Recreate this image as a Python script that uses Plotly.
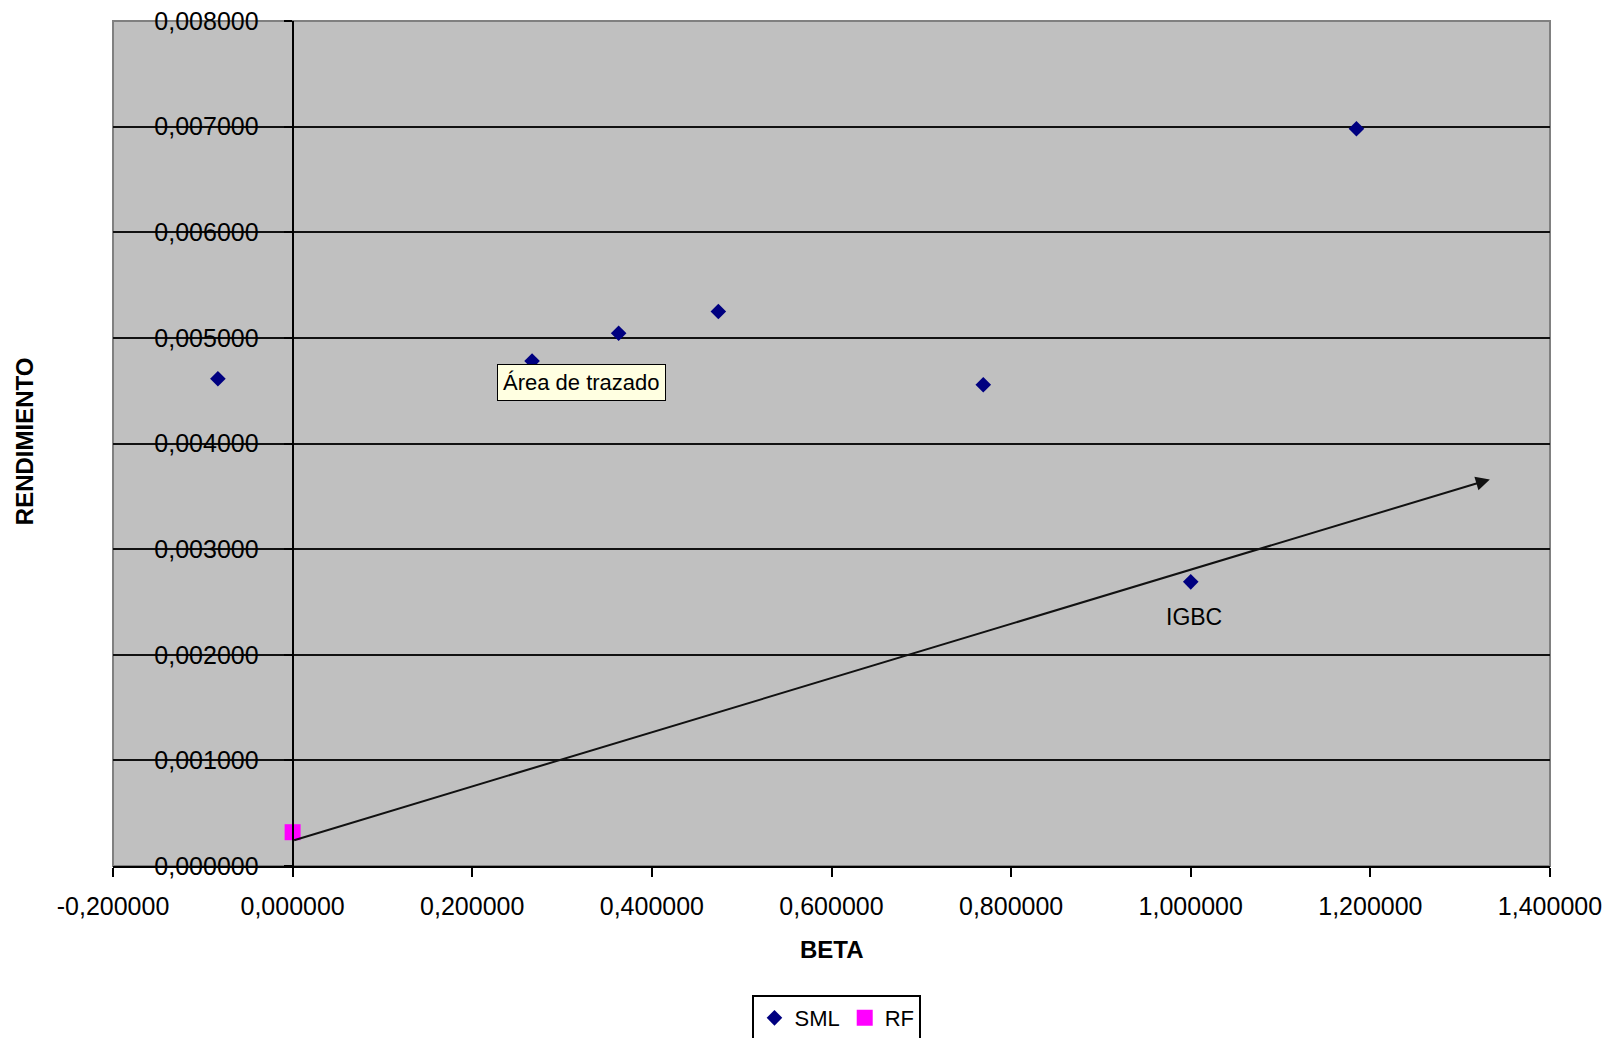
import plotly.graph_objects as go

# ---- data ----
sml_beta = [-0.0832, 0.2666, 0.3630, 0.4740, 0.7690, 1.0000, 1.1845]
sml_ret = [0.004613, 0.004780, 0.005044, 0.005250, 0.004556, 0.002690, 0.006980]
rf_beta = [0.0]
rf_ret = [0.000320]
igbc_beta = 1.0
igbc_ret = 0.002690
arrow_start = [0.0, 0.000240]
arrow_end = [1.333, 0.003660]

x_ticks = [-0.2, 0.0, 0.2, 0.4, 0.6, 0.8, 1.0, 1.2, 1.4]
x_ticktext = ["-0,200000", "0,000000", "0,200000", "0,400000", "0,600000",
              "0,800000", "1,000000", "1,200000", "1,400000"]
y_ticks = [0.0, 0.001, 0.002, 0.003, 0.004, 0.005, 0.006, 0.007, 0.008]
y_ticktext = ["0,000000", "0,001000", "0,002000", "0,003000", "0,004000",
              "0,005000", "0,006000", "0,007000", "0,008000"]

FONT = "Liberation Sans, Arial, sans-serif"

fig = go.Figure()
fig.add_trace(go.Scatter(
    x=sml_beta, y=sml_ret, mode="markers", name="SML",
    marker=dict(symbol="diamond", size=12, color="#000080"),
))
fig.add_trace(go.Scatter(
    x=rf_beta, y=rf_ret, mode="markers", name="RF",
    marker=dict(symbol="square", size=16, color="#FF00FF"),
    cliponaxis=False,
))

annotations = [
    # arrow drawn on chart
    dict(x=arrow_end[0], y=arrow_end[1], ax=arrow_start[0], ay=arrow_start[1],
         xref="x", yref="y", axref="x", ayref="y", text="",
         showarrow=True, arrowhead=2, arrowsize=1.4, arrowwidth=2, arrowcolor="#111111"),
    # IGBC label
    dict(x=igbc_beta, y=igbc_ret, xref="x", yref="y", text="IGBC", showarrow=False,
         yshift=-35, xshift=3, font=dict(family=FONT, size=23, color="#000000")),
    # axis titles
    dict(x=-0.0619, y=0.401, xref="paper", yref="paper", text="<b>RENDIMIENTO</b>",
         textangle=-90, showarrow=False, xanchor="center", yanchor="bottom",
         font=dict(family=FONT, size=24, color="#000000")),
    dict(x=0.5, y=-0.0994, xref="paper", yref="paper", text="<b>BETA</b>",
         showarrow=False, xanchor="center", yanchor="middle",
         font=dict(family=FONT, size=24, color="#000000")),
    # tooltip box
    dict(x=0.267, y=0.594, xref="paper", yref="paper", text="Área de trazado",
         showarrow=False, xanchor="left", yanchor="top",
         bgcolor="#FFFFE1", bordercolor="#000000", borderwidth=1, borderpad=5,
         font=dict(family=FONT, size=22, color="#000000")),
]

fig.update_layout(
    width=1607, height=1030,
    margin=dict(l=105, r=65, t=13, b=172, autoexpand=False),
    paper_bgcolor="#FFFFFF",
    plot_bgcolor="#C0C0C0",
    font=dict(family=FONT, size=25, color="#000000"),
    showlegend=True,
    legend=dict(orientation="h", x=0.445, y=-0.1527, xanchor="left", yanchor="top",
                bgcolor="#FFFFFF", bordercolor="#000000", borderwidth=2,
                font=dict(family=FONT, size=22, color="#000000"),
                itemwidth=30, tracegroupgap=0),
    annotations=annotations,
    shapes=[dict(type="rect", xref="paper", yref="paper", x0=0, x1=1, y0=0, y1=1,
                 line=dict(color="#808080", width=2), layer="below")],
    xaxis=dict(range=[-0.2, 1.4], tickvals=x_ticks, ticktext=x_ticktext,
               showgrid=False, zeroline=False, showline=True, linecolor="#000000",
               linewidth=2, ticks="outside", ticklen=9, tickwidth=2, tickcolor="#000000",
               ticklabelstandoff=8, automargin=False, ticklabeloverflow="allow",
               tickfont=dict(family=FONT, size=25)),
    yaxis=dict(range=[0, 0.008], tickvals=y_ticks, ticktext=y_ticktext,
               anchor="free", position=0.125, automargin=False,
               ticklabeloverflow="allow",
               showgrid=True, gridcolor="#111111", gridwidth=2,
               zeroline=False, showline=True, linecolor="#000000", linewidth=2,
               ticks="outside", ticklen=8, tickwidth=2, tickcolor="#000000",
               ticklabelstandoff=20, tickfont=dict(family=FONT, size=25)),
)

fig.write_html("out.html")
